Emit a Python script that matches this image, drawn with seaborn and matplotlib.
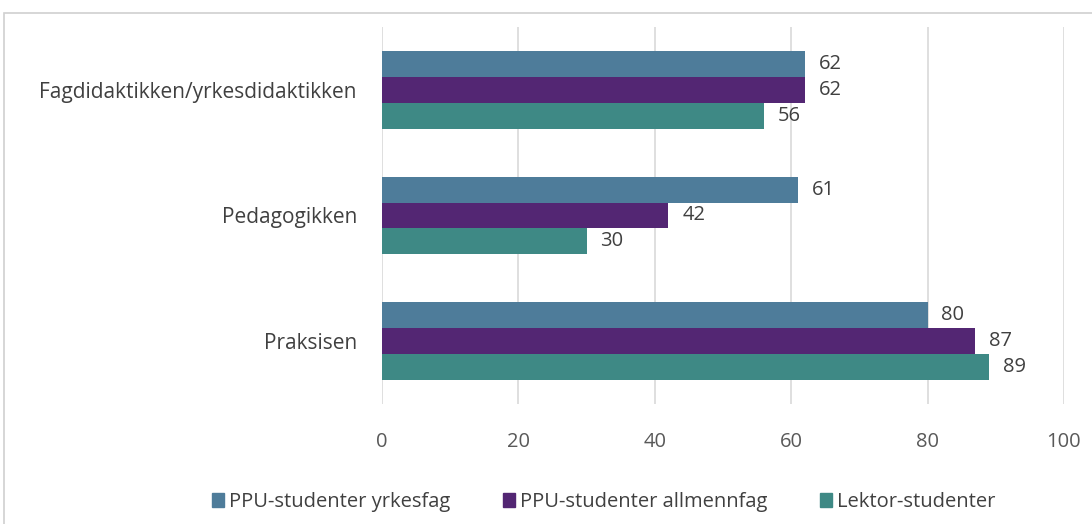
import matplotlib.pyplot as plt
import matplotlib.patches as mpatches
import pandas as pd
import seaborn as sns

categories = ['Fagdidaktikken/yrkesdidaktikken', 'Pedagogikken', 'Praksisen']
series = ['PPU-studenter yrkesfag', 'PPU-studenter allmennfag', 'Lektor-studenter']
values = {
    'PPU-studenter yrkesfag': [62, 61, 80],
    'PPU-studenter allmennfag': [62, 42, 87],
    'Lektor-studenter': [56, 30, 89],
}
colors = ['#4e7c9a', '#532673', '#3e8985']

rows = []
for s in series:
    for c, v in zip(categories, values[s]):
        rows.append({'kategori': c, 'serie': s, 'verdi': v})
df = pd.DataFrame(rows)

sns.set_style('white')
plt.rcParams['font.family'] = ['Open Sans', 'DejaVu Sans']

fig = plt.figure(figsize=(10.92, 5.24), dpi=100)
ax = fig.add_axes([0.3498, 0.229, 0.6245, 0.7195])

sns.barplot(data=df, x='verdi', y='kategori', hue='serie', order=categories,
            hue_order=series, palette=colors, orient='h', width=0.62,
            saturation=1, linewidth=0, ax=ax, legend=False)

for cont in ax.containers:
    ax.bar_label(cont, padding=10, fontsize=14.5, color='#404040')

ax.set_xlim(0, 100)
ax.set_xticks(range(0, 101, 20))
ax.set_ylim(2.5, -0.5)
ax.xaxis.grid(True, color='#d9d9d9', linewidth=1.2)
ax.set_axisbelow(True)
for sp in ax.spines.values():
    sp.set_visible(False)
ax.set_xlabel('')
ax.set_ylabel('')
ax.tick_params(axis='x', length=0, pad=20, labelsize=14.5, labelcolor='#595959')
ax.tick_params(axis='y', length=0, pad=18, labelsize=15, labelcolor='#404040')

handles = [mpatches.Patch(color=col, label=s) for s, col in zip(series, colors)]
fig.legend(handles=handles, loc='center', bbox_to_anchor=(0.553, 0.042), ncol=3,
           frameon=False, fontsize=14.5, handlelength=0.6, handleheight=0.7,
           handletextpad=0.25, columnspacing=2.6, labelcolor='#404040')

border = mpatches.Rectangle((4 / 1092, -0.05), 1.05, 1 - 13 / 524 + 0.05,
                            transform=fig.transFigure, fill=False,
                            edgecolor='#d0d0d0', linewidth=1.2)
fig.patches.append(border)

fig.savefig('out.png', dpi=100)
